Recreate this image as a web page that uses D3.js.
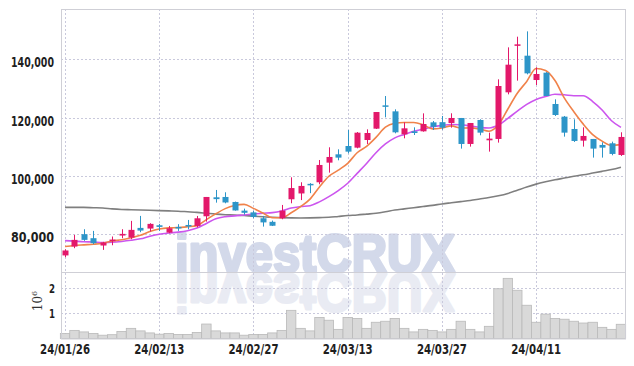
<!DOCTYPE html>
<html>
<head>
<meta charset="utf-8">
<script src="https://cdn.jsdelivr.net/npm/d3@7"></script>
<style>
  body { margin: 0; background: #fff; }
  svg text { font-family: "DejaVu Sans Condensed", "DejaVu Sans", sans-serif; }
</style>
</head>
<body>
<svg id="chart" width="634" height="366"></svg>
<script>
const dates = ["24/01/26","24/01/29","24/01/30","24/01/31","24/02/01","24/02/02","24/02/05","24/02/06","24/02/07","24/02/08",
  "24/02/13","24/02/14","24/02/15","24/02/16","24/02/19","24/02/20","24/02/21","24/02/22","24/02/23","24/02/26",
  "24/02/27","24/02/28","24/02/29","24/03/04","24/03/05","24/03/06","24/03/07","24/03/08","24/03/11","24/03/12",
  "24/03/13","24/03/14","24/03/15","24/03/18","24/03/19","24/03/20","24/03/21","24/03/22","24/03/25","24/03/26",
  "24/03/27","24/03/28","24/03/29","24/04/01","24/04/02","24/04/03","24/04/04","24/04/05","24/04/08","24/04/09",
  "24/04/11","24/04/12","24/04/15","24/04/16","24/04/17","24/04/18","24/04/19","24/04/22","24/04/23","24/04/24"];

const opens = [72600,75650,79890,78520,76000,77480,79430,78740,82060,81830,
  82960,80440,82390,83070,82730,86050,92580,92690,90970,88000,
  87400,85370,84150,85370,91900,93900,97200,97740,104490,107350,
  110210,109640,112270,116170,124180,122120,114220,115250,115250,118340,
  118400,118120,119840,110910,119150,112170,112630,128660,144690,141250,
  132890,135410,124650,120300,116060,112050,112630,110570,111140,107130];
const highs = [74700,79660,81600,81030,77250,79100,81600,84470,86180,83670,
  83420,82730,83330,84790,86160,92690,95100,94300,91110,88680,
  87900,86170,84580,89950,99450,97740,97450,105400,109760,109070,
  115710,115020,115940,121890,127390,122810,118340,116630,121430,118800,
  120530,121450,119840,118120,119390,114800,133130,144120,147780,149610,
  137250,135600,126250,120530,119390,116630,112630,111480,111710,114920];
const lows = [72000,75080,77600,76450,74500,76100,78520,78170,80580,80800,
  81010,80210,81030,81580,82270,84220,90740,90510,88000,86620,
  85380,82500,82700,85030,90520,91620,94000,97050,101050,105290,
  107690,109410,110900,116050,120060,114570,112850,113990,115130,115710,
  115800,116520,109310,110000,113890,108280,111370,127970,132670,134840,
  131180,127400,120530,113430,111600,110000,106220,106220,107020,106790];
const closes = [74300,77940,77940,76800,77030,78050,80000,81380,81140,83440,
  82400,81930,81900,82610,85360,92690,91950,90800,88050,87250,
  85800,83950,82800,88000,95750,96480,96700,103690,106440,106210,
  108270,114790,114680,121890,123800,114910,116280,114680,117770,116800,
  116500,119840,110910,118120,114800,112740,130830,138160,145150,135180,
  134960,127400,120870,114800,111940,113660,109310,109650,107480,113320];

// moving averages
const ma5 = [75650,76000,76230,76450,76800,77550,77960,78650,79520,80800,
  81670,82060,82160,82460,82840,84900,86900,88680,89770,90150,
  88770,87170,85570,85560,87260,89400,91950,96120,99810,101900,
  104260,107880,110080,113170,116690,118010,118310,118310,117490,116090,
  116410,117120,116360,116430,116030,115280,117480,122930,128340,132410,
  136860,136170,132710,126640,121990,117730,114120,111870,110410,110680];
const ma20 = [77700,77500,77300,77200,77000,77100,77400,77800,78300,79200,
  79900,80300,80600,81100,82000,83600,85200,85900,86200,86500,
  86800,87100,87300,87900,88900,89400,89700,91000,92800,94900,
  97400,100800,104200,107900,110900,113000,114200,115300,116000,116800,
  117300,117600,117500,117100,116600,116400,117400,119700,122200,124500,
  126200,127200,128000,127800,127500,127500,125500,122600,118900,116600];
const ma60 = [89100,89100,89100,89000,88900,88600,88400,88300,88200,88100,
  88000,87900,87800,87600,87400,87100,86800,86600,86500,86300,
  86100,85900,85700,85600,85500,85450,85500,85600,85700,86000,
  86300,86500,86800,87100,87600,88200,88600,89000,89400,89800,
  90300,90700,91100,91500,92000,92500,93100,93900,95000,96100,
  97100,97900,98600,99200,99800,100300,100900,101500,102100,102900];

// volume in millions
const volumes = [0.20,0.32,0.26,0.20,0.13,0.15,0.28,0.40,0.30,0.22,
  0.17,0.20,0.16,0.16,0.24,0.57,0.30,0.22,0.22,0.13,
  0.16,0.16,0.22,0.32,1.11,0.40,0.30,0.83,0.72,0.36,
  0.83,0.79,0.40,0.64,0.68,0.79,0.40,0.26,0.36,0.32,
  0.26,0.36,0.68,0.36,0.26,0.48,1.96,2.37,1.90,1.31,
  0.64,0.96,0.79,0.76,0.68,0.61,0.64,0.44,0.36,0.56];

const priceTicks = [80000, 100000, 120000, 140000];
const volumeTicks = [1, 2];
const dateTickIdx = [0, 10, 20, 30, 40, 50];

const svg = d3.select("#chart");
const plotLeft = 61, plotRight = 625, plotTop = 9, plotMid = 272, plotBottom = 338.5;
const upColor = "#e3186a", downColor = "#2d95c8";

const x = d3.scaleLinear().domain([-0.43, dates.length - 1 + 0.43]).range([plotLeft, plotRight]);
const y = d3.scaleLinear().domain([66900, 157300]).range([plotMid, plotTop]);
const yv = d3.scaleLinear().domain([0, 2.62]).range([plotBottom, plotMid]);
const step = x(1) - x(0);

// watermark (with its reflection below the divider)
function watermark(fill, transform) {
  svg.append("text")
    .attr("x", 175).attr("y", 272)
    .attr("transform", transform)
    .attr("textLength", 280).attr("lengthAdjust", "spacingAndGlyphs")
    .style("font-family", "'Liberation Sans', Arial, sans-serif")
    .style("font-weight", "bold").style("font-size", "54px")
    .attr("fill", fill).attr("stroke", fill).attr("stroke-width", 3)
    .attr("stroke-linejoin", "round")
    .text("investCRUX");
}
watermark("#d3d9ea", null);
watermark("#e9ebf3", "translate(0,546) scale(1,-1)");

// grid
const grid = svg.append("g").attr("stroke", "#c9c9dc").attr("stroke-dasharray", "2,2").attr("stroke-width", 1);
grid.selectAll("line.h").data(priceTicks).join("line")
  .attr("x1", plotLeft).attr("x2", plotRight)
  .attr("y1", d => Math.round(y(d)) + 0.5).attr("y2", d => Math.round(y(d)) + 0.5);
grid.selectAll("line.v").data(volumeTicks).join("line")
  .attr("x1", plotLeft).attr("x2", plotRight)
  .attr("y1", d => Math.round(yv(d)) + 0.5).attr("y2", d => Math.round(yv(d)) + 0.5);
grid.selectAll("line.d").data(dateTickIdx).join("line")
  .attr("x1", d => Math.round(x(d)) + 0.5).attr("x2", d => Math.round(x(d)) + 0.5)
  .attr("y1", plotTop).attr("y2", plotBottom);

// volume bars
svg.append("g").selectAll("rect").data(volumes).join("rect")
  .attr("x", (d, i) => x(i) - step / 2)
  .attr("width", step)
  .attr("y", d => yv(d))
  .attr("height", d => yv(0) - yv(d))
  .attr("fill", "#d9d9d9")
  .attr("stroke", "#b9b9b9")
  .attr("stroke-width", 0.8);

// moving averages
const line = d3.line().x((d, i) => x(i)).y(d => y(d)).curve(d3.curveMonotoneX);
svg.append("path").datum(ma60).attr("d", line).attr("fill", "none").attr("stroke", "#7f7f7f").attr("stroke-width", 1.6);
svg.append("path").datum(ma20).attr("d", line).attr("fill", "none").attr("stroke", "#cc55ee").attr("stroke-width", 1.6);
svg.append("path").datum(ma5).attr("d", line).attr("fill", "none").attr("stroke", "#f0824a").attr("stroke-width", 1.6);

// candles
const candles = svg.append("g").selectAll("g").data(dates).join("g")
  .attr("fill", (d, i) => closes[i] >= opens[i] ? upColor : downColor)
  .attr("stroke", (d, i) => closes[i] >= opens[i] ? upColor : downColor);
candles.append("line")
  .attr("x1", (d, i) => Math.round(x(i)) + 0.5).attr("x2", (d, i) => Math.round(x(i)) + 0.5)
  .attr("y1", (d, i) => y(highs[i])).attr("y2", (d, i) => y(lows[i]))
  .attr("stroke-width", 1);
candles.append("rect")
  .attr("x", (d, i) => Math.round(x(i)) - 2.5)
  .attr("width", 6)
  .attr("y", (d, i) => y(Math.max(opens[i], closes[i])))
  .attr("height", (d, i) => Math.max(1.5, Math.abs(y(opens[i]) - y(closes[i]))))
  .attr("stroke", "none");

// frame
const frame = svg.append("g").attr("stroke", "#cfcfd6").attr("fill", "none");
frame.append("rect").attr("x", plotLeft + 0.5).attr("y", plotTop + 0.5).attr("width", plotRight - plotLeft).attr("height", plotBottom - plotTop);
frame.append("line").attr("x1", plotLeft).attr("x2", plotRight).attr("y1", plotMid + 0.5).attr("y2", plotMid + 0.5);

// axis labels
const fmt = d3.format(",");
svg.append("g").selectAll("text").data(priceTicks).join("text")
  .attr("x", 54).attr("y", d => y(d) + 8)
  .attr("text-anchor", "end").attr("fill", "#1e1e1e")
  .style("font-size", "14px").style("font-weight", "bold")
  .attr("textLength", 43).attr("lengthAdjust", "spacingAndGlyphs")
  .text(d => fmt(d));
svg.append("g").selectAll("text").data(volumeTicks).join("text")
  .attr("x", 55).attr("y", d => yv(d) + 5)
  .attr("text-anchor", "end").attr("fill", "#1e1e1e")
  .style("font-size", "12px").style("font-weight", "bold")
  .attr("textLength", 6).attr("lengthAdjust", "spacingAndGlyphs")
  .text(d => d);
svg.append("g").selectAll("text").data(dateTickIdx).join("text")
  .attr("x", d => x(d)).attr("y", 354)
  .attr("text-anchor", "middle").attr("fill", "#1e1e1e")
  .style("font-size", "14px").style("font-weight", "bold")
  .attr("textLength", 50).attr("lengthAdjust", "spacingAndGlyphs")
  .text(d => dates[d]);

const unit = svg.append("text")
  .attr("transform", "translate(42,301) rotate(-90)")
  .attr("text-anchor", "middle").attr("fill", "#333")
  .style("font-family", "'DejaVu Serif', serif").style("font-size", "12px");
unit.append("tspan").text("10");
unit.append("tspan").attr("dy", "-5").style("font-size", "8px").text("6");
</script>
</body>
</html>
